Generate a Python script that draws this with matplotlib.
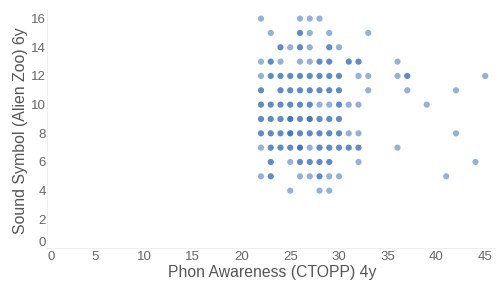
import matplotlib
matplotlib.use("Agg")
import matplotlib.pyplot as plt
import matplotlib.transforms as mtransforms
import numpy as np

# Data: (Phon Awareness 4y, Sound Symbol 6y, overlap count estimated from darkness)
rows = {
    16: [(22, 1), (26, 1), (27, 1), (28, 1)],
    15: [(23, 1), (26, 2), (27, 1), (29, 1), (33, 1)],
    14: [(24, 2), (25, 1), (26, 2), (27, 1), (29, 2), (30, 1)],
    13: [(22, 1), (23, 2), (24, 1), (26, 1), (27, 1), (28, 2), (29, 2), (31, 2), (32, 2), (36, 1)],
    12: [(22, 1), (23, 2), (24, 2), (25, 2), (26, 2), (27, 2), (28, 2), (29, 2), (30, 2),
         (32, 1), (33, 1), (36, 1), (37, 2), (45, 1)],
    11: [(22, 2), (24, 2), (25, 2), (26, 2), (27, 2), (28, 2), (29, 2), (30, 2), (33, 1), (37, 1), (42, 1)],
    10: [(22, 2), (23, 2), (24, 2), (25, 2), (26, 2), (27, 2), (28, 1), (29, 1), (30, 2), (31, 1), (32, 1), (39, 1)],
    9: [(22, 2), (23, 2), (24, 2), (25, 3), (26, 2), (27, 3), (28, 2), (29, 2), (30, 2)],
    8: [(22, 2), (23, 2), (24, 2), (25, 3), (26, 2), (27, 2), (28, 2), (29, 2), (30, 2), (31, 1), (32, 1), (42, 1)],
    7: [(22, 1), (23, 2), (24, 2), (25, 2), (26, 3), (27, 1), (28, 2), (29, 2), (30, 2), (31, 2), (32, 2), (36, 1)],
    6: [(23, 2), (25, 1), (26, 2), (27, 2), (28, 2), (29, 2), (32, 1), (44, 1)],
    5: [(22, 1), (23, 2), (26, 1), (27, 1), (28, 2), (29, 1), (30, 1), (41, 1)],
    4: [(25, 1), (28, 1), (29, 1)],
}
phon = [x for y, pts in rows.items() for x, n in pts]
sound = [y for y, pts in rows.items() for x, n in pts]
counts = [n for y, pts in rows.items() for x, n in pts]

x_ticks = [0, 5, 10, 15, 20, 25, 30, 35, 40, 45]
y_ticks = [0, 2, 4, 6, 8, 10, 12, 14, 16]
x_label = "Phon Awareness (CTOPP) 4y"
y_label = "Sound Symbol (Alien Zoo) 6y"

plt.rcParams['font.family'] = ['Liberation Sans', 'DejaVu Sans']
fig = plt.figure(figsize=(5.03, 2.87), dpi=100)
ax = fig.add_axes([46.5 / 503, 39 / 287, 448.5 / 503, 238 / 287])

base = np.array([0.17, 0.40, 0.70])
a = 0.5
alphas = [1 - (1 - a) ** n for n in counts]
colors = [(*base, al) for al in alphas]
ax.scatter(phon, sound, s=20, c=colors, edgecolors='none')

ax.set_xlim(0, 46)
ax.set_ylim(0, 16.6)
ax.set_xticks(x_ticks)
ax.set_yticks(y_ticks)
ax.tick_params(length=0, labelsize=9.5, labelcolor='#666666')
ax.tick_params(axis='y', pad=0.5)
ax.tick_params(axis='x', pad=2.5)
for s in ['top', 'right']:
    ax.spines[s].set_visible(False)
for s in ['left', 'bottom']:
    ax.spines[s].set_color('#eeeeee')
    ax.spines[s].set_linewidth(0.8)

fig.text(272 / 503, 1 - 272 / 287, x_label, fontsize=11.3, color='#555555',
         ha='center', va='center')
fig.text(21 / 503, 1 - 131 / 287, y_label, fontsize=11.4, color='#555555',
         ha='center', va='center', rotation=90)

fig.canvas.draw()
xl = ax.get_xticklabels()[0]
xl.set_transform(xl.get_transform() + mtransforms.ScaledTranslation(5 / 100, 0, fig.dpi_scale_trans))
yl = ax.get_yticklabels()[0]
yl.set_transform(yl.get_transform() + mtransforms.ScaledTranslation(0, 7 / 100, fig.dpi_scale_trans))

fig.savefig("out.png", dpi=100)
